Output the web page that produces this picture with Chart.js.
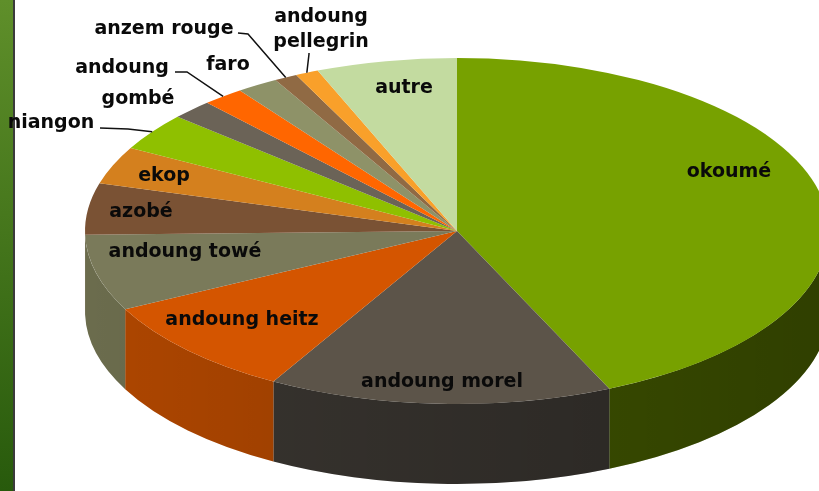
<!DOCTYPE html>
<html>
<head>
<meta charset="utf-8">
<style>
  html, body { margin: 0; padding: 0; background: #fff; }
  #wrap { width: 819px; height: 491px; }
</style>
<script src="https://cdn.jsdelivr.net/npm/chart.js@4.4.1/dist/chart.umd.min.js"></script>
</head>
<body>
<div id="wrap"><canvas id="woodPie" width="819" height="491"></canvas></div>
<script>
// wood species share (percent), clockwise from 12 o'clock
const categories = [
    "okoumé", "andoung morel", "andoung heitz", "andoung towé", "azobé", "ekop",
    "niangon", "gombé", "andoung", "faro", "anzem rouge", "andoung pellegrin", "autre"
];
const shares = [43.2, 14.9, 9.3, 7.1, 4.8, 3.5, 3.5, 1.8, 1.8, 1.8, 1.0, 1.0, 6.1];

const topColors = [
    "#77a100", "#5c5449", "#d45500", "#7a7a5a", "#7a5234", "#d4801e",
    "#8fc000", "#6b6357", "#ff6600", "#8e9268", "#906a44", "#f9a02a", "#c3dba0"
];
const wallColors = [
    "#445a00", "#393530", "#ae4600", "#6b6c4d", "#5e3f28", "#a86418",
    "#6f9400", "#524c43", "#c95000", "#6e7150", "#6f5234", "#c47d20", "#98ab7c"
];

// where the ellipse sits on the page
const PIE = { cx: 457, cy: 231, rx: 372, ry: 173, depth: 80 };

// label placement (text centre), optional leader start/elbow
const labelLayout = [
    { x: 729, y: 172 },
    { x: 442, y: 382 },
    { x: 242, y: 320 },
    { x: 185, y: 252 },
    { x: 141, y: 212 },
    { x: 164, y: 176 },
    { x: 51, y: 123, leader: [[100, 128], [128, 129]] },
    { x: 138, y: 99 },
    { x: 122, y: 68, leader: [[175, 72], [187, 72]] },
    { x: 228, y: 65 },
    { x: 164, y: 29, leader: [[238, 33], [248, 34]] },
    { x: 321, y: 17, lines: ["andoung", "pellegrin"], leader: [[309, 53], [309, 54]] },
    { x: 404, y: 88 }
];

function pieTransform(chart) {
    const arc = chart.getDatasetMeta(0).data[0];
    return {
        x0: arc.x, y0: arc.y, r0: arc.outerRadius,
        sx: PIE.rx / arc.outerRadius, sy: PIE.ry / arc.outerRadius
    };
}

const flatPie = {
    id: "flatPie",
    beforeDraw(chart) {
        // green side bar on the left
        const ctx = chart.ctx;
        const g = ctx.createLinearGradient(0, 0, 0, chart.height);
        g.addColorStop(0, "#5f8f2a");
        g.addColorStop(1, "#285a0c");
        ctx.save();
        ctx.fillStyle = g;
        ctx.fillRect(0, 0, 13, chart.height);
        ctx.fillStyle = "#3b3b3b";
        ctx.fillRect(13, 0, 2, chart.height);
        ctx.restore();
    },
    beforeDatasetsDraw(chart) {
        const ctx = chart.ctx;
        const t = pieTransform(chart);
        ctx.save();
        ctx.translate(PIE.cx, PIE.cy);
        ctx.scale(t.sx, t.sy);
        ctx.translate(-t.x0, -t.y0);

        const dN = PIE.depth / t.sy;
        chart.getDatasetMeta(0).data.forEach((arc, i) => {
            const a1 = Math.max(arc.startAngle, 0);
            const a2 = Math.min(arc.endAngle, Math.PI);
            if (a2 <= a1) return;
            ctx.beginPath();
            ctx.arc(t.x0, t.y0, t.r0, a1, a2);
            ctx.arc(t.x0, t.y0 + dN, t.r0, a2, a1, true);
            ctx.closePath();
            ctx.fillStyle = wallColors[i];
            ctx.fill();
            // light falls from the left
            const sh = ctx.createLinearGradient(t.x0 - t.r0, 0, t.x0 + t.r0, 0);
            sh.addColorStop(0, "rgba(0,0,0,0)");
            sh.addColorStop(1, "rgba(0,0,0,0.3)");
            ctx.fillStyle = sh;
            ctx.fill();
        });
    },
    afterDatasetsDraw(chart) {
        chart.ctx.restore();
    },
    afterDraw(chart) {
        const ctx = chart.ctx;
        const arcs = chart.getDatasetMeta(0).data;
        ctx.save();
        ctx.font = "bold 19px 'DejaVu Sans'";
        ctx.fillStyle = "#0a0a0a";
        ctx.textAlign = "center";
        ctx.textBaseline = "middle";
        ctx.strokeStyle = "#111";
        ctx.lineWidth = 1.5;
        labelLayout.forEach((lab, i) => {
            const lines = lab.lines || [categories[i]];
            lines.forEach((s, k) => ctx.fillText(s, lab.x, lab.y + k * 25));
            if (lab.leader) {
                const arc = arcs[i];
                const mid = (arc.startAngle + arc.endAngle) / 2;
                const ex = PIE.cx + PIE.rx * Math.cos(mid);
                const ey = PIE.cy + PIE.ry * Math.sin(mid);
                ctx.beginPath();
                ctx.moveTo(lab.leader[0][0], lab.leader[0][1]);
                ctx.lineTo(lab.leader[1][0], lab.leader[1][1]);
                ctx.lineTo(ex, ey);
                ctx.stroke();
            }
        });
        ctx.restore();
    }
};

new Chart(document.getElementById("woodPie"), {
    type: "pie",
    data: {
        labels: categories,
        datasets: [
            {
                data: shares,
                backgroundColor: topColors,
                borderWidth: 0
            }
        ]
    },
    options: {
        responsive: false,
        animation: false,
        devicePixelRatio: 1,
        layout: { padding: 0 },
        plugins: {
            legend: { display: false },
            tooltip: { enabled: false }
        }
    },
    plugins: [flatPie]
});
</script>
</body>
</html>
